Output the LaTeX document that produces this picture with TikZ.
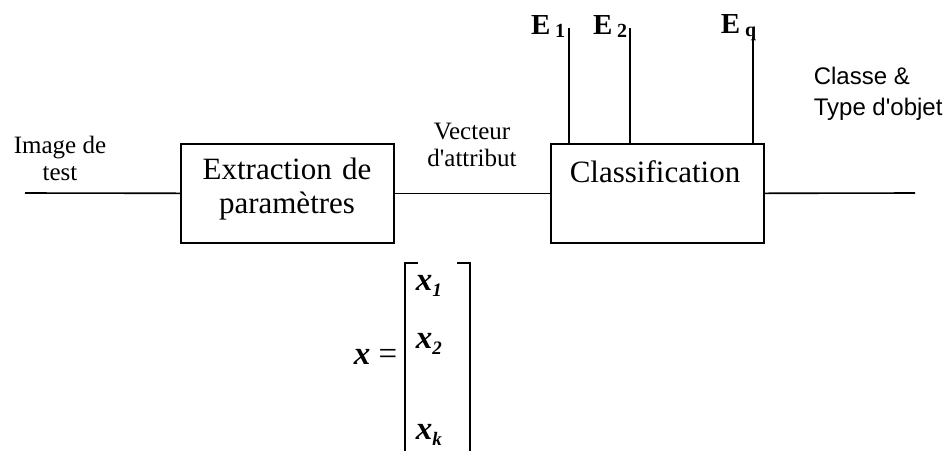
\documentclass[tikz,border=0pt]{standalone}
\usepackage{fontspec}
\setmainfont{Liberation Serif}
\newfontfamily\arialfont{Liberation Sans}
\begin{document}
\begin{tikzpicture}[x=1pt,y=-1pt,
  line width=1.6pt,
  blockbox/.style={draw, line width=1.6pt, minimum width=213pt, minimum height=99pt, inner sep=0pt, anchor=north west},
  serifbig/.style={font=\fontsize{31}{35}\selectfont, align=center, inner sep=0pt},
  seriflab/.style={font=\fontsize{25}{25}\selectfont, align=center, inner sep=0pt},
  sanslab/.style={font=\arialfont\fontsize{24}{27}\selectfont, align=left, inner sep=0pt},
  elab/.style={font=\fontsize{29}{29}\selectfont\bfseries, inner sep=0pt},
  mathent/.style={font=\fontsize{33}{33}\selectfont\bfseries, inner sep=0pt}
]
\useasboundingbox (0,0) rectangle (944,451);
% blocks
\node[blockbox] (ext) at (180,143) {};
\node[serifbig, text width=213pt] (exttxt) at (287,189) {Extraction de\\[-1pt]paramètres};
\node[blockbox] (cls) at (550,143) {};
\node[serifbig] (clstxt) at (655,172) {Classification};
% input / output ends
\coordinate (inp) at (25,193);
\coordinate (outp) at (915,193);
\draw (inp) -- (ext.west);
\draw (ext.east) -- (cls.west);
\draw (cls.east) -- (outp);
% labels on lines
\node[seriflab] (imglab) at (60,158) {Image de\\[2pt]test};
\node[seriflab] (veclab) at (472,145) {Vecteur\\[2pt]d\textquotesingle attribut};
\node[sanslab, anchor=west] (outlab) at (813,94) {Classe \&\\[4pt]Type d\textquotesingle objet};
% experts
\coordinate (e1top) at (569,28);
\coordinate (e2top) at (630,28);
\coordinate (eqtop) at (753,37);
\draw (e1top) -- (e1top |- cls.north);
\draw (e2top) -- (e2top |- cls.north);
\draw (eqtop) -- (eqtop |- cls.north);
\node[elab, anchor=east] (e1lab) at (566,26) {E\,\raisebox{-3pt}{\fontsize{20}{20}\selectfont 1}};
\node[elab, anchor=east] (e2lab) at (628,26) {E\,\raisebox{-3pt}{\fontsize{20}{20}\selectfont 2}};
\node[elab, anchor=east] (eqlab) at (757,28) {E\,\raisebox{-3pt}{\fontsize{20}{20}\selectfont q}};
% vector x
\node[mathent, anchor=east] (xeq) at (398,357) {\textit{x} \mdseries=};
\draw[line width=1.8pt] (418,263) -- (405,263) -- (405,451);
\draw[line width=1.8pt] (457,263) -- (470,263) -- (470,451);
\node[mathent, anchor=west] (x1) at (415,286) {\textit{x}\raisebox{-6pt}{\fontsize{19}{19}\selectfont\textit{1}}};
\node[mathent, anchor=west] (x2) at (415,344) {\textit{x}\raisebox{-6pt}{\fontsize{19}{19}\selectfont\textit{2}}};
\node[mathent, anchor=west] (xk) at (415,435) {\textit{x}\raisebox{-6pt}{\fontsize{19}{19}\selectfont\textit{k}}};
\end{tikzpicture}
\end{document}
